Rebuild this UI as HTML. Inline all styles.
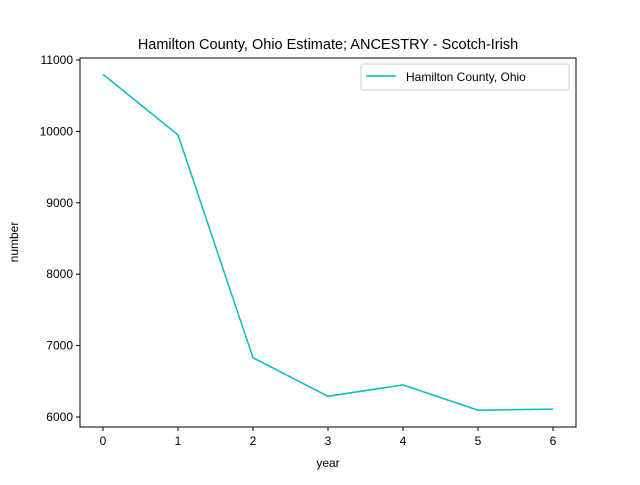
<!DOCTYPE html>
<html><head><meta charset="utf-8"><style>body{margin:0;background:#fff}svg{font-family:"Liberation Sans","DejaVu Sans",sans-serif}</style></head>
<body>
<svg id="chart" width="640" height="480">
<rect x="0" y="0" width="640" height="480" fill="#fff"/>
<text x="328" y="49" font-size="14.5" text-anchor="middle">Hamilton County, Ohio Estimate; ANCESTRY - Scotch-Irish</text>
<g id="axes"></g>
<text x="328" y="467" font-size="12" text-anchor="middle">year</text>
<text transform="translate(18,242) rotate(-90)" font-size="12" text-anchor="middle">number</text>
<g>
<rect x="361" y="64" width="208" height="26" fill="#fff" stroke="#ccc" rx="2"/>
<line x1="366" y1="76" x2="396" y2="76" stroke="#00bfbf" stroke-width="1.5"/>
<text x="406" y="81" font-size="12">Hamilton County, Ohio</text>
</g>
</svg>
<script>
const years=[0,1,2,3,4,5,6];
const values=[10800,9950,6830,6290,6450,6095,6110];
const xTicks=[0,1,2,3,4,5,6];
const yTicks=[6000,7000,8000,9000,10000,11000];
const ns="http://www.w3.org/2000/svg";
const g=document.getElementById('axes');
const L=80,R=576,T=58,B=427;
const xs=v=>103+v*75;
const ys=v=>417-(v-6000)*0.0714;
function mk(t,a){const e=document.createElementNS(ns,t);for(const k in a)e.setAttribute(k,a[k]);g.appendChild(e);return e;}
xTicks.forEach(t=>{
mk('line',{x1:xs(t),x2:xs(t),y1:B,y2:B+4,stroke:'#000'});
const tx=mk('text',{x:xs(t),y:B+18,'font-size':12,'text-anchor':'middle'});tx.textContent=t;


});
yTicks.forEach(t=>{
mk('line',{x1:L-4,x2:L,y1:ys(t),y2:ys(t),stroke:'#000'});
const tx=mk('text',{x:L-7,y:ys(t)+4,'font-size':12,'text-anchor':'end'});tx.textContent=t;


});
const p=mk('polyline',{points:years.map((y,i)=>xs(y)+','+ys(values[i])).join(' '),fill:'none',stroke:'#00bfbf','stroke-width':1.5});


const f=mk('rect',{x:L,y:T,width:R-L,height:B-T,fill:'none',stroke:'#000','stroke-width':1});


</script>
</body></html>
